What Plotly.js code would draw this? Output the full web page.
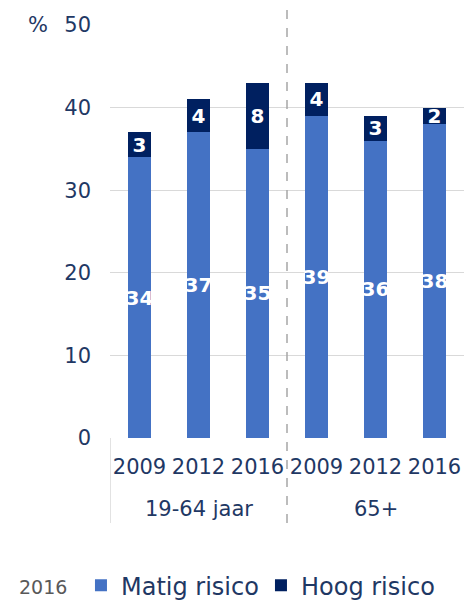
<!DOCTYPE html>
<html>
<head>
<meta charset="utf-8">
<script src="https://cdn.plot.ly/plotly-3.0.1.min.js"></script>
<style>html,body{margin:0;padding:0;background:#fff;}#chart{width:464px;height:600px;}</style>
</head>
<body>
<div id="chart"></div>
<script>
const groups = ['19-64 jaar', '19-64 jaar', '19-64 jaar', '65+', '65+', '65+'];
const years = ['2009', '2012', '2016', '2009', '2012', '2016'];
const matig = [34, 37, 35, 39, 36, 38];
const hoog = [3, 4, 8, 4, 3, 2];
const legendTitle = '2016';
const seriesNames = ['Matig risico', 'Hoog risico'];

const FONT = 'DejaVu Sans, Verdana, sans-serif';
const NAVY = '#1F3864';
const xs = years.map((_, i) => i);

const traces = [
  {
    type: 'bar', name: seriesNames[0], x: xs, y: matig,
    text: matig.map(String), textposition: 'inside', insidetextanchor: 'middle',
    textangle: 0, constraintext: 'none',
    textfont: {family: FONT, size: 20, color: '#ffffff', weight: 'bold'},
    marker: {color: '#4472C4'}, hoverinfo: 'skip'
  },
  {
    type: 'bar', name: seriesNames[1], x: xs, y: hoog,
    text: hoog.map(String), textposition: 'inside', insidetextanchor: 'middle',
    textangle: 0, constraintext: 'none',
    textfont: {family: FONT, size: 20, color: '#ffffff', weight: 'bold'},
    marker: {color: '#002060'}, hoverinfo: 'skip'
  }
];

const uniqueGroups = [...new Set(groups)];
const annotations = uniqueGroups.map(g => {
  const idx = xs.filter(i => groups[i] === g);
  const c = idx.reduce((a, b) => a + b, 0) / idx.length;
  return {x: c, xref: 'x', y: -0.172, yref: 'paper', text: g, showarrow: false,
    font: {family: FONT, size: 21, color: NAVY}, xanchor: 'center', yanchor: 'middle'};
});
annotations.push({x: -0.203, xref: 'paper', y: 50, yref: 'y', text: '%', showarrow: false,
  font: {family: FONT, size: 21, color: NAVY}, xanchor: 'center', yanchor: 'middle'});
annotations.push({x: -0.263, xref: 'paper', y: -0.36, yref: 'paper', text: legendTitle, showarrow: false,
  font: {family: FONT, size: 19, color: '#595959'}, xanchor: 'left', yanchor: 'middle'});

const boundary = xs.filter(i => i > 0 && groups[i] !== groups[i - 1]).map(i => i - 0.5);
const shapes = [];
boundary.forEach(b => shapes.push({type: 'line', xref: 'x', yref: 'paper', x0: b, x1: b,
  y0: -0.206, y1: 1.04, line: {color: '#A6A6A6', width: 1.5, dash: 'dash'}}));
shapes.push({type: 'line', xref: 'x', yref: 'paper', x0: -0.5, x1: -0.5, y0: -0.206, y1: 0,
  line: {color: '#D9D9D9', width: 1.5}});

const layout = {
  width: 464, height: 600,
  margin: {l: 110, r: 0, t: 25, b: 162, autoexpand: false},
  barmode: 'stack', bargap: 0.6,
  paper_bgcolor: '#ffffff', plot_bgcolor: '#ffffff',
  font: {family: FONT, color: NAVY},
  xaxis: {
    range: [-0.5, 5.5], tickmode: 'array', tickvals: xs, ticktext: years,
    tickfont: {family: FONT, size: 21, color: NAVY}, ticks: '', showgrid: false,
    zeroline: false, showline: false, ticklabelstandoff: 14, fixedrange: true
  },
  yaxis: {
    range: [0, 50], dtick: 10, tickfont: {family: FONT, size: 21, color: NAVY},
    gridcolor: '#D9D9D9', gridwidth: 1, zeroline: false, showline: false, ticks: '',
    ticklabelstandoff: 18, fixedrange: true
  },
  showlegend: true,
  legend: {
    orientation: 'h', x: -0.082, xanchor: 'left', y: -0.412, yanchor: 'bottom',
    font: {family: FONT, size: 24, color: NAVY},
    entrywidth: 135, entrywidthmode: 'pixels',
    traceorder: 'normal', itemclick: false, itemdoubleclick: false
  },
  annotations: annotations,
  shapes: shapes
};

Plotly.newPlot('chart', traces, layout, {staticPlot: true, displayModeBar: false});
</script>
</body>
</html>
